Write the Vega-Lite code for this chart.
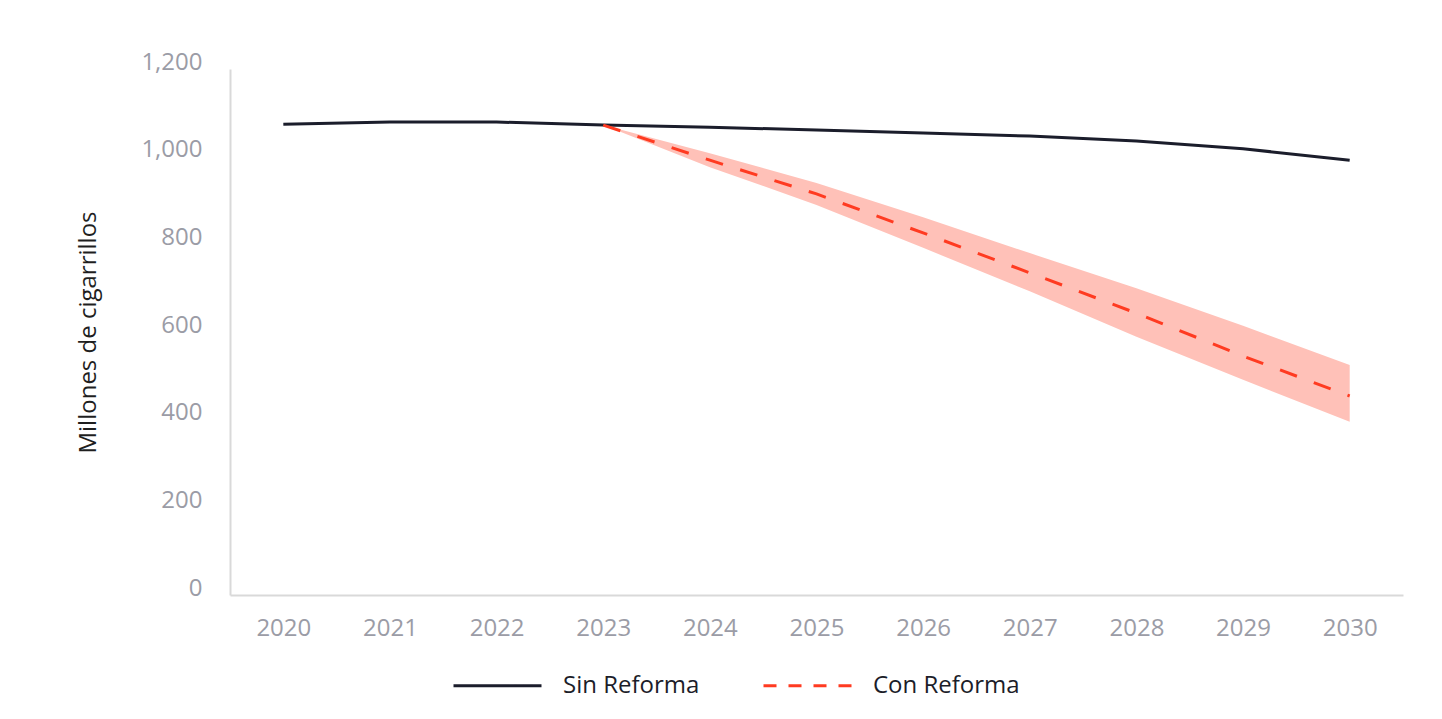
{
  "$schema": "https://vega.github.io/schema/vega-lite/v6.json",
  "width": 1173,
  "height": 526,
  "autosize": {"type": "none"},
  "padding": {"left": 230, "top": 69, "right": 39, "bottom": 124},
  "background": "white",
  "config": {"view": {"stroke": null}, "font": "Open Sans"},
  "data": {
    "values": [
      {"year": "2020", "series": "Sin Reforma", "value": 1074},
      {"year": "2021", "series": "Sin Reforma", "value": 1079},
      {"year": "2022", "series": "Sin Reforma", "value": 1079},
      {"year": "2023", "series": "Sin Reforma", "value": 1072},
      {"year": "2024", "series": "Sin Reforma", "value": 1067},
      {"year": "2025", "series": "Sin Reforma", "value": 1061},
      {"year": "2026", "series": "Sin Reforma", "value": 1054},
      {"year": "2027", "series": "Sin Reforma", "value": 1047},
      {"year": "2028", "series": "Sin Reforma", "value": 1036},
      {"year": "2029", "series": "Sin Reforma", "value": 1018},
      {"year": "2030", "series": "Sin Reforma", "value": 992},
      {"year": "2023", "series": "Con Reforma", "value": 1072, "lo": 1072, "hi": 1072},
      {"year": "2024", "series": "Con Reforma", "value": 992, "lo": 976, "hi": 1008},
      {"year": "2025", "series": "Con Reforma", "value": 915, "lo": 890, "hi": 940},
      {"year": "2026", "series": "Con Reforma", "value": 826, "lo": 792, "hi": 862},
      {"year": "2027", "series": "Con Reforma", "value": 735, "lo": 693, "hi": 780},
      {"year": "2028", "series": "Con Reforma", "value": 643, "lo": 589, "hi": 700},
      {"year": "2029", "series": "Con Reforma", "value": 545, "lo": 491, "hi": 614},
      {"year": "2030", "series": "Con Reforma", "value": 454, "lo": 395, "hi": 525}
    ]
  },
  "encoding": {
    "x": {
      "field": "year",
      "type": "ordinal",
      "scale": {"type": "point", "padding": 0.5},
      "axis": {
        "title": null,
        "labelAngle": 0,
        "ticks": false,
        "tickSize": 0,
        "grid": false,
        "domainColor": "#d9d9d9",
        "domainWidth": 2,
        "labelColor": "#9b9ca6",
        "labelFontSize": 24,
        "labelPadding": 21
      }
    }
  },
  "layer": [
    {
      "transform": [{"filter": "datum.series === 'Con Reforma'"}],
      "mark": {"type": "area", "color": "#ffc1b8", "opacity": 1},
      "encoding": {
        "y": {
          "field": "hi",
          "type": "quantitative",
          "scale": {"domain": [0, 1200], "nice": false},
          "axis": {
            "title": "Millones de cigarrillos",
            "values": [0, 200, 400, 600, 800, 1000, 1200],
            "format": ",d",
            "grid": false,
            "ticks": false,
            "tickSize": 0,
            "domainColor": "#d9d9d9",
            "domainWidth": 2,
            "labelColor": "#9b9ca6",
            "labelFontSize": 24,
            "labelPadding": 28,
            "labelOffset": -7,
            "titleFontSize": 24,
            "titleFontWeight": "normal",
            "titleColor": "#1f1f1f",
            "titlePadding": 40
          }
        },
        "y2": {"field": "lo"}
      }
    },
    {
      "transform": [{"filter": "datum.series === 'Sin Reforma'"}],
      "mark": {"type": "line", "strokeWidth": 3},
      "encoding": {
        "y": {"field": "value", "type": "quantitative", "title": "Millones de cigarrillos"},
        "color": {
          "field": "series",
          "type": "nominal",
          "scale": {"domain": ["Sin Reforma", "Con Reforma"], "range": ["#1b1d2b", "#ff3b21"]},
          "legend": {
            "title": null,
            "orient": "none",
            "legendX": 222,
            "legendY": 571,
            "direction": "horizontal",
            "symbolType": "stroke",
            "symbolSize": 7744,
            "symbolStrokeWidth": 3,
            "labelFontSize": 24,
            "labelColor": "#1c1d29",
            "labelOffset": 20,
            "labelLimit": 300,
            "columnPadding": 57,
            "encode": {
              "symbols": {
                "update": {
                  "strokeDash": {"signal": "datum.value === 'Con Reforma' ? [13, 12] : [1, 0]"}
                }
              }
            }
          }
        }
      }
    },
    {
      "transform": [{"filter": "datum.series === 'Con Reforma'"}],
      "mark": {"type": "line", "strokeWidth": 3, "strokeDash": [18, 18]},
      "encoding": {
        "y": {"field": "value", "type": "quantitative", "title": "Millones de cigarrillos"},
        "color": {"field": "series", "type": "nominal"}
      }
    }
  ]
}
